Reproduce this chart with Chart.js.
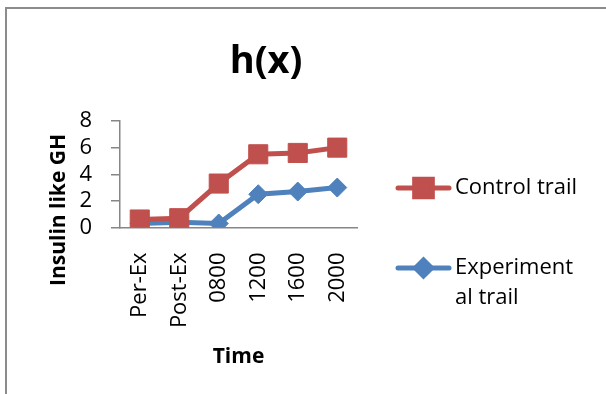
<!DOCTYPE html>
<html>
<head>
<meta charset="utf-8">
<script src="https://cdn.jsdelivr.net/npm/chart.js@4/dist/chart.umd.min.js"></script>
<style>
  html, body { margin: 0; padding: 0; background: #fff; }
  #wrap { width: 606px; height: 394px; position: relative; }
</style>
</head>
<body>
<div id="wrap"><canvas id="c" width="606" height="394"></canvas></div>
<script>
// Sampling times and measured values
const timePoints = ['Per-Ex', 'Post-Ex', '0800', '1200', '1600', '2000'];
const controlTrail = [0.6, 0.7, 3.3, 5.5, 5.6, 6.0];
const experimentalTrail = [0.3, 0.4, 0.3, 2.5, 2.7, 3.0];
const yTicks = [0, 2, 4, 6, 8];
const seriesNames = ['Control trail', 'Experimental trail'];
const legendLines = [['Control trail'], ['Experiment', 'al trail']];
const chartTitle = 'h(x)';
const yAxisTitle = 'Insulin like GH';
const xAxisTitle = 'Time';

const RED = '#C0504D';
const BLUE = '#4F81BD';
const AXIS = '#868686';
const FONT = "'Open Sans', sans-serif";

// White page with the grey outline of the chart frame
const framePlugin = {
  id: 'frame',
  beforeDraw(chart) {
    const ctx = chart.ctx;
    ctx.save();
    ctx.fillStyle = '#fff';
    ctx.fillRect(0, 0, chart.width, chart.height);
    ctx.strokeStyle = '#8c8c8c';
    ctx.lineWidth = 2;
    ctx.beginPath();
    ctx.moveTo(6, chart.height + 5);
    ctx.lineTo(6, 8);
    ctx.lineTo(chart.width + 5, 8);
    ctx.stroke();
    ctx.restore();
  }
};

// Title, vertical axis title and the legend at the right
const annotatePlugin = {
  id: 'annotate',
  afterDraw(chart) {
    const ctx = chart.ctx;
    ctx.save();
    ctx.fillStyle = '#000';

    ctx.font = `bold 38px ${FONT}`;
    ctx.textAlign = 'center';
    ctx.textBaseline = 'alphabetic';
    ctx.fillText(chartTitle, 266, 73);

    ctx.save();
    ctx.translate(65, 210);
    ctx.rotate(-Math.PI / 2);
    ctx.font = `bold 21px ${FONT}`;
    ctx.textAlign = 'center';
    ctx.textBaseline = 'alphabetic';
    ctx.fillText(yAxisTitle, 0, 0);
    ctx.restore();

    const rows = [188, 268];
    const markerSize = [12.5, 8];
    chart.data.datasets.forEach((ds, i) => {
      const y = rows[i];
      ctx.strokeStyle = ds.borderColor;
      ctx.lineWidth = 5;
      ctx.lineCap = 'round';
      ctx.beginPath();
      ctx.moveTo(398, y);
      ctx.lineTo(449, y);
      ctx.stroke();
      ctx.fillStyle = ds.pointBackgroundColor;
      ctx.strokeStyle = ds.pointBorderColor;
      Chart.helpers.drawPoint(ctx, {
        pointStyle: ds.pointStyle,
        radius: markerSize[i],
        borderWidth: 1,
        rotation: 0
      }, 423.5, y);
      ctx.fillStyle = '#000';
      ctx.font = `22px ${FONT}`;
      ctx.textAlign = 'left';
      ctx.textBaseline = 'middle';
      legendLines[i].forEach((line, k) => {
        ctx.fillText(line, 455, y + k * 30);
      });
    });
    ctx.restore();
  }
};

new Chart(document.getElementById('c'), {
  type: 'line',
  data: {
    labels: timePoints,
    datasets: [
      {
        label: seriesNames[0],
        data: controlTrail,
        borderColor: RED,
        backgroundColor: RED,
        pointBackgroundColor: RED,
        pointBorderColor: RED,
        borderWidth: 5,
        pointStyle: 'rect',
        pointRadius: 13.5,
        pointBorderWidth: 1,
        tension: 0
      },
      {
        label: seriesNames[1],
        data: experimentalTrail,
        borderColor: BLUE,
        backgroundColor: BLUE,
        pointBackgroundColor: BLUE,
        pointBorderColor: BLUE,
        borderWidth: 5,
        pointStyle: 'rectRot',
        pointRadius: 9.5,
        pointBorderWidth: 1,
        tension: 0
      }
    ]
  },
  options: {
    responsive: false,
    devicePixelRatio: 1,
    animation: false,
    layout: { padding: { left: 0, top: 121, right: 249, bottom: 0 } },
    plugins: {
      legend: { display: false },
      title: { display: false },
      tooltip: { enabled: false }
    },
    scales: {
      x: {
        type: 'category',
        offset: true,
        grid: { display: false, drawOnChartArea: false },
        border: { display: true, color: AXIS, width: 1.5 },
        ticks: {
          color: '#000',
          font: { family: FONT, size: 22 },
          minRotation: 90,
          maxRotation: 90,
          autoSkip: false,
          padding: 17
        },
        title: {
          display: true,
          text: xAxisTitle,
          color: '#000',
          font: { family: FONT, size: 21, weight: 'bold' },
          padding: { top: 0, bottom: 24 }
        },
        afterFit(scale) { scale.height = 394 - 227.5; }
      },
      y: {
        min: 0,
        max: 8,
        grid: {
          drawOnChartArea: false,
          drawTicks: true,
          tickLength: 9,
          color: AXIS,
          lineWidth: 1.5
        },
        border: { display: true, color: AXIS, width: 1.5 },
        ticks: {
          color: '#000',
          font: { family: FONT, size: 22 },
          padding: 19,
          autoSkip: false
        },
        afterBuildTicks(scale) { scale.ticks = yTicks.map(v => ({ value: v })); },
        afterFit(scale) { scale.width = 120; }
      }
    }
  },
  plugins: [framePlugin, annotatePlugin]
});
</script>
</body>
</html>
